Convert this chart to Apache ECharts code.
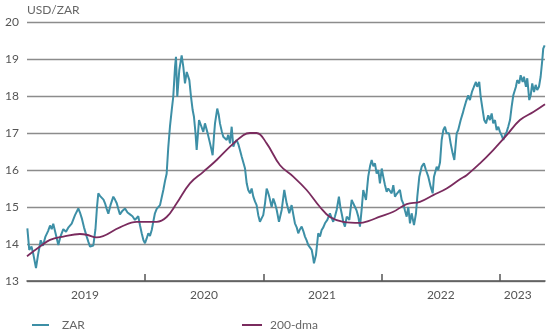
<!DOCTYPE html>
<html>
<head>
<meta charset="utf-8">
<script src="https://cdn.jsdelivr.net/npm/echarts@6/dist/echarts.min.js"></script>
<style>
html,body{margin:0;padding:0;background:#fff;}
#chart{width:550px;height:330px;}
</style>
</head>
<body>
<div id="chart"></div>
<script>
// Decimal years and USD/ZAR spot values
var zarDates = [2019.003,2019.019,2019.038,2019.055,2019.076,2019.093,2019.116,2019.135,2019.156,2019.178,2019.195,2019.209,2019.222,2019.241,2019.265,2019.283,2019.307,2019.330,2019.351,2019.378,2019.406,2019.434,2019.448,2019.463,2019.482,2019.505,2019.520,2019.533,2019.561,2019.579,2019.592,2019.603,2019.617,2019.632,2019.647,2019.660,2019.674,2019.688,2019.706,2019.730,2019.744,2019.759,2019.772,2019.786,2019.808,2019.829,2019.850,2019.871,2019.892,2019.913,2019.941,2019.956,2019.970,2019.985,2019.998,
2020.012,2020.026,2020.040,2020.055,2020.068,2020.082,2020.097,2020.110,2020.125,2020.139,2020.153,2020.167,2020.181,2020.195,2020.209,2020.224,2020.237,2020.252,2020.260,2020.271,2020.288,2020.308,2020.322,2020.336,2020.351,2020.373,2020.387,2020.401,2020.412,2020.425,2020.435,2020.455,2020.471,2020.491,2020.505,2020.528,2020.548,2020.560,2020.570,2020.581,2020.590,2020.609,2020.621,2020.632,2020.647,2020.660,2020.689,2020.702,2020.717,2020.731,2020.745,2020.759,2020.773,2020.787,2020.801,2020.816,2020.829,2020.844,2020.858,2020.871,2020.886,2020.900,2020.914,2020.928,2020.942,2020.956,2020.970,2020.985,2020.998,
2021.013,2021.027,2021.038,2021.049,2021.069,2021.083,2021.097,2021.112,2021.131,2021.154,2021.176,2021.196,2021.218,2021.238,2021.252,2021.266,2021.281,2021.294,2021.309,2021.323,2021.337,2021.351,2021.365,2021.379,2021.393,2021.408,2021.419,2021.427,2021.444,2021.463,2021.478,2021.492,2021.506,2021.520,2021.540,2021.562,2021.577,2021.590,2021.605,2021.619,2021.638,2021.650,2021.661,2021.675,2021.689,2021.704,2021.726,2021.746,2021.759,2021.774,2021.788,2021.802,2021.816,2021.830,2021.844,2021.867,2021.886,2021.901,2021.915,2021.929,2021.943,2021.957,2021.971,2021.985,
2022.000,2022.013,2022.027,2022.042,2022.055,2022.070,2022.084,2022.098,2022.112,2022.126,2022.140,2022.154,2022.169,2022.182,2022.197,2022.211,2022.225,2022.239,2022.253,2022.273,2022.290,2022.301,2022.318,2022.338,2022.357,2022.374,2022.394,2022.414,2022.431,2022.442,2022.465,2022.478,2022.493,2022.507,2022.521,2022.535,2022.549,2022.569,2022.583,2022.600,2022.614,2022.634,2022.647,2022.668,2022.685,2022.696,2022.712,2022.732,2022.746,2022.763,2022.780,2022.797,2022.808,2022.825,2022.837,2022.854,2022.867,2022.882,2022.901,2022.915,2022.930,2022.943,2022.958,2022.972,2022.986,
2023.000,2023.014,2023.028,2023.042,2023.057,2023.070,2023.085,2023.099,2023.113,2023.135,2023.146,2023.163,2023.175,2023.192,2023.203,2023.220,2023.231,2023.248,2023.260,2023.273,2023.288,2023.302,2023.315,2023.330,2023.344,2023.358,2023.366,2023.378];
var zarValues = [14.42,13.84,13.93,13.70,13.35,13.70,14.10,13.95,14.20,14.35,14.50,14.40,14.55,14.30,13.97,14.20,14.40,14.33,14.45,14.55,14.78,14.96,14.85,14.70,14.45,14.20,14.05,13.93,13.96,14.40,15.00,15.37,15.30,15.28,15.20,15.10,14.95,14.82,15.05,15.28,15.20,15.10,14.95,14.80,14.90,14.96,14.85,14.80,14.75,14.65,14.75,14.50,14.29,14.10,14.02,
14.15,14.29,14.22,14.38,14.60,14.83,14.95,15.00,15.05,15.10,15.46,15.70,15.90,16.62,17.17,17.62,17.98,18.79,19.06,17.98,18.70,19.10,18.79,18.34,18.65,18.43,17.98,17.62,17.44,17.00,16.54,17.35,17.21,17.03,17.26,16.99,16.72,16.55,16.40,16.90,17.26,17.66,17.50,17.26,17.05,16.90,16.81,16.95,16.72,17.17,16.63,16.75,16.81,16.70,16.54,16.36,16.40,16.04,15.64,15.46,15.37,15.50,15.28,15.15,15.05,14.78,14.60,14.70,14.78,
15.10,15.50,15.40,15.28,15.00,15.23,15.10,14.92,14.60,14.92,15.46,15.10,14.83,15.05,14.80,14.56,14.45,14.29,14.40,14.47,14.35,14.20,14.10,13.97,13.95,13.84,13.65,13.48,13.70,14.29,14.20,14.38,14.45,14.56,14.65,14.83,14.70,14.60,14.75,14.92,15.28,15.00,14.83,14.60,14.47,14.74,14.65,15.19,15.10,15.00,14.90,14.74,14.47,14.92,15.46,15.19,15.82,16.10,16.27,16.10,16.18,15.90,16.00,15.64,
16.04,15.82,15.60,15.41,15.50,15.55,15.37,15.59,15.28,15.35,15.37,15.46,15.19,15.10,14.90,14.74,15.00,14.56,14.83,14.51,14.83,15.28,15.82,16.09,16.18,16.00,15.82,15.55,15.37,15.82,16.09,16.00,16.20,16.81,17.08,17.17,16.99,16.99,16.72,16.45,16.27,16.99,17.08,17.35,17.53,17.66,17.84,18.02,17.89,18.11,18.25,18.38,18.25,18.38,17.98,17.62,17.35,17.26,17.48,17.35,17.53,17.26,17.35,17.08,17.17,
17.03,16.94,16.81,16.94,17.03,17.17,17.35,17.71,18.02,18.25,18.43,18.34,18.56,18.38,18.52,18.25,18.48,17.89,18.02,18.34,18.11,18.30,18.16,18.25,18.52,18.97,19.28,19.37];

// 200-day moving average
var dmaDates = [2019.000,2019.110,2019.195,2019.307,2019.448,2019.505,2019.589,2019.786,2019.928,2020.040,2020.097,2020.181,2020.266,2020.378,2020.491,2020.604,2020.717,2020.829,2020.886,2020.942,2021.027,2021.140,2021.252,2021.365,2021.478,2021.562,2021.675,2021.816,2021.886,2021.985,2022.098,2022.211,2022.323,2022.436,2022.549,2022.662,2022.718,2022.831,2022.943,2023.057,2023.169,2023.282,2023.381];
var dmaValues = [13.67,13.93,14.11,14.20,14.27,14.25,14.18,14.45,14.60,14.60,14.60,14.73,15.10,15.64,15.95,16.27,16.63,16.94,17.00,17.00,16.72,16.13,15.82,15.46,15.00,14.73,14.60,14.57,14.62,14.74,14.87,15.08,15.14,15.32,15.50,15.75,15.86,16.18,16.54,16.94,17.35,17.57,17.78];

var seriesNames = ['ZAR', '200-dma'];
var yTitle = 'USD/ZAR';
var xTickYears = [2020, 2021, 2022, 2023];
var xLabelPositions = [2019.49, 2020.497, 2021.495, 2022.50, 2023.15];
var xLabels = ['2019', '2020', '2021', '2022', '2023'];

function pairs(xs, ys) { return xs.map(function (x, i) { return [x, ys[i]]; }); }

var chart = echarts.init(document.getElementById('chart'), null, { renderer: 'canvas' });
var font = 'Lato, "Open Sans", sans-serif';
chart.setOption({
  animation: false,
  backgroundColor: '#fff',
  textStyle: { fontFamily: font },
  title: {
    text: yTitle, left: 27, top: 4, padding: 0,
    textStyle: { fontSize: 12, fontWeight: 'normal', color: '#666', fontFamily: font }
  },
  legend: [
    { data: [{ name: seriesNames[0], icon: 'rect' }], left: 27, top: 314, itemWidth: 17, itemHeight: 2,
      textStyle: { fontSize: 12, color: '#666', padding: [0, 0, 0, 8], fontFamily: font } },
    { data: [{ name: seriesNames[1], icon: 'rect' }], left: 237, top: 314, itemWidth: 20, itemHeight: 2,
      textStyle: { fontSize: 12, color: '#666', padding: [0, 0, 0, 3], fontFamily: font } }
  ],
  grid: { left: 27, right: 5, top: 22, bottom: 49 },
  xAxis: {
    type: 'value', min: 2019, max: 2023.381,
    splitLine: { show: false },
    axisLine: { show: true, lineStyle: { color: '#555', width: 1.5 } },
    axisTick: { show: true, inside: true, length: 7, customValues: xTickYears, lineStyle: { color: '#555', width: 1.5 } },
    axisLabel: {
      customValues: xLabelPositions, margin: 8, fontSize: 12, color: '#555', fontFamily: font,
      formatter: function (v) { var i = xLabelPositions.indexOf(v); return i >= 0 ? xLabels[i] : ''; }
    }
  },
  yAxis: {
    type: 'value', min: 13, max: 20, interval: 1,
    axisLine: { show: false }, axisTick: { show: false },
    axisLabel: { margin: 8, fontSize: 12, color: '#555', fontFamily: font },
    splitLine: { lineStyle: { color: '#8c8c8c', width: 1.3 } }
  },
  series: [
    { name: seriesNames[0], type: 'line', data: pairs(zarDates, zarValues), showSymbol: false, symbol: 'none',
      color: '#3d8fa6', lineStyle: { width: 2, color: '#3d8fa6' }, z: 3 },
    { name: seriesNames[1], type: 'line', data: pairs(dmaDates, dmaValues), showSymbol: false, symbol: 'none', smooth: 0.4,
      color: '#7a2b5e', lineStyle: { width: 1.8, color: '#7a2b5e' }, z: 4 }
  ]
});
</script>
</body>
</html>
